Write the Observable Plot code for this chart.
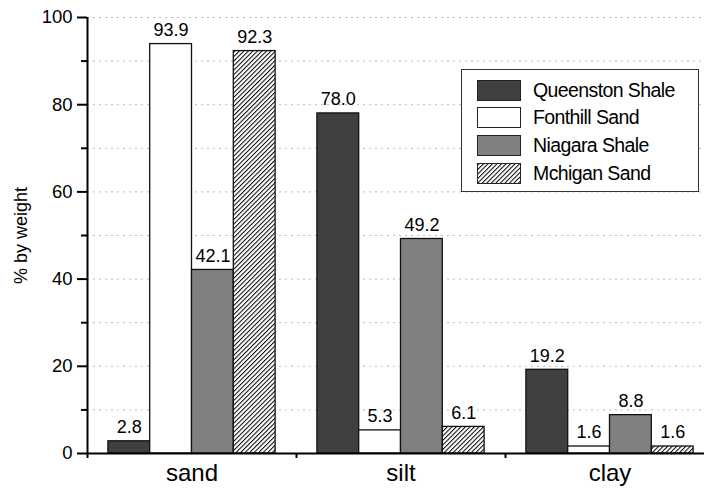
<!DOCTYPE html>
<html>
<head>
<meta charset="utf-8">
<script src="https://cdn.jsdelivr.net/npm/d3@7"></script>
<script src="https://cdn.jsdelivr.net/npm/@observablehq/plot@0.6"></script>
<style>
  body { margin: 0; background: white; }
  #wrap { position: relative; width: 704px; height: 489px; overflow: hidden; font-family: "Liberation Sans", Arial, sans-serif; }
  #legend { position: absolute; left: 461px; top: 69px; width: 236px; height: 121px; border: 1.5px solid #333; background: white; }
  .row { position: absolute; left: 15px; height: 22px; display: flex; align-items: center; }
  .sw { width: 42px; height: 19px; border: 1.5px solid #222; margin-right: 12px; flex: none; }
  .lab { font-size: 19.5px; letter-spacing: -0.6px; color: black; white-space: nowrap; }
</style>
</head>
<body>
<div id="wrap"></div>
<script>
const categories = ["sand", "silt", "clay"];
const series = ["Queenston Shale", "Fonthill Sand", "Niagara Shale", "Mchigan Sand"];
const queenstonShale = [2.8, 78.0, 19.2];
const fonthillSand = [93.9, 5.3, 1.6];
const niagaraShale = [42.1, 49.2, 8.8];
const michiganSand = [92.3, 6.1, 1.6];
const seriesValues = [queenstonShale, fonthillSand, niagaraShale, michiganSand];
const seriesFills = ["#404040", "white", "#808080", "url(#hatch)"];
const yMajorTicks = [0, 20, 40, 60, 80, 100];
const yMinorTicks = [10, 30, 50, 70, 90];
const gridTicks = [10, 20, 30, 40, 50, 60, 70, 80, 90, 100];

const data = [];
series.forEach((s, j) => categories.forEach((c, i) => data.push({cat: c, series: s, ci: i, sj: j, value: seriesValues[j][i]})));

// bar layout within each category band (fractions of the band)
const groupPad = 0.1, barW = 0.2;
const x1 = d => d.ci + groupPad + d.sj * barW;
const x2 = d => d.ci + groupPad + (d.sj + 1) * barW;
const xm = d => d.ci + groupPad + (d.sj + 0.5) * barW;

const chart = Plot.plot({
  width: 730,
  height: 489,
  marginLeft: 87,
  marginRight: 16,
  marginTop: 17,
  marginBottom: 36,
  style: {fontFamily: "'Liberation Sans', Arial, sans-serif", color: "black", background: "white", maxWidth: "none", overflow: "visible"},
  x: {domain: [0, 3], axis: null},
  y: {domain: [0, 100], axis: null},
  color: {domain: series, range: seriesFills},
  marks: [
    Plot.gridY(gridTicks, {stroke: "#b8b8b8", strokeOpacity: 1, strokeWidth: 1, strokeDasharray: "2,4"}),
    Plot.rectY(data, {x1, x2, y: "value", fill: "series", stroke: "#111", strokeWidth: 1.3}),
    Plot.text(data, {x: xm, y: "value", text: d => d.value.toFixed(1), dy: -14, fontSize: 18, fill: "black", style: "letter-spacing:-0.8px"}),
    Plot.ruleY([0], {stroke: "black", strokeWidth: 2}),
    Plot.ruleX([0], {stroke: "black", strokeWidth: 2}),
    Plot.axisY({ticks: yMajorTicks, tickSize: 10, tickPadding: 5, fontSize: 18.5, strokeWidth: 2, label: null, style: "letter-spacing:-1px"}),
    Plot.axisY({ticks: yMinorTicks, tickSize: 6, tickFormat: () => "", strokeWidth: 2, label: null}),
    Plot.axisX({ticks: [0, 1, 2, 3], tickSize: 5, tickFormat: () => "", strokeWidth: 2, label: null}),
    Plot.axisX({ticks: [0.5, 1.5, 2.5], tickSize: 0, tickPadding: 10, tickFormat: d => categories[Math.floor(d)], fontSize: 24, label: null}),
    Plot.text(["% by weight"], {frameAnchor: "left", textAnchor: "middle", text: d => d, rotate: -90, dx: -66, fontSize: 18, fill: "black"})
  ]
});

const patternDef = '<pattern id="hatch" patternUnits="userSpaceOnUse" width="3.2" height="3.2" patternTransform="rotate(45)"><rect width="3.2" height="3.2" fill="white"/><line x1="0.5" y1="0" x2="0.5" y2="3.2" stroke="black" stroke-width="1"/></pattern>';
d3.select(chart).insert("defs", ":first-child").html(patternDef);

const wrap = document.getElementById("wrap");
wrap.appendChild(chart);

// legend
const legend = document.createElement("div");
legend.id = "legend";
series.forEach((s, j) => {
  const row = document.createElement("div");
  row.className = "row";
  row.style.top = (9 + j * 27.7) + "px";
  const sw = document.createElement("div");
  sw.className = "sw";
  if (j === 3) {
    sw.innerHTML = '<svg width="42" height="19" style="display:block"><defs>' + patternDef.replace('id="hatch"', 'id="hatch2"') + '</defs><rect width="42" height="19" fill="url(#hatch2)"/></svg>';
  } else {
    sw.style.background = seriesFills[j];
  }
  const lab = document.createElement("span");
  lab.className = "lab";
  lab.textContent = s;
  row.appendChild(sw);
  row.appendChild(lab);
  legend.appendChild(row);
});
wrap.appendChild(legend);
</script>
</body>
</html>
